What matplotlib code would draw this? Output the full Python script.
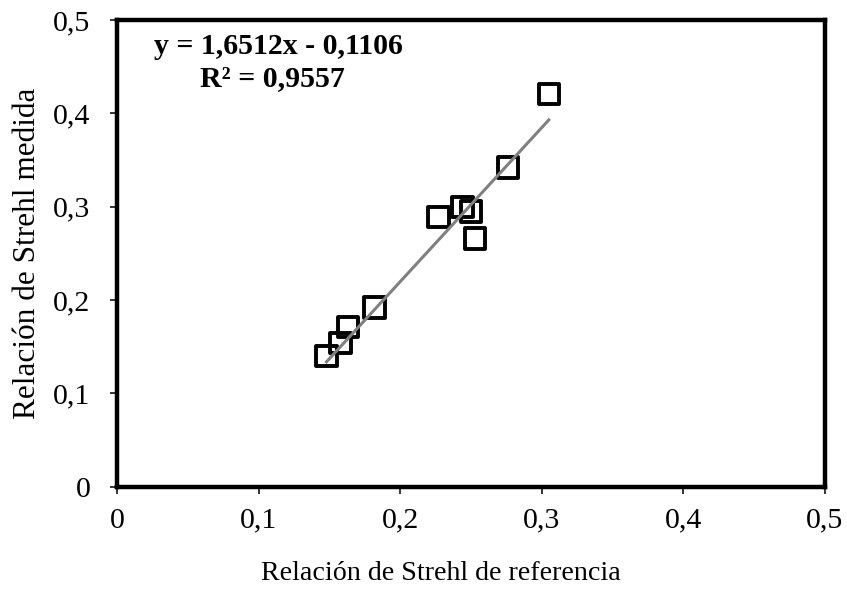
import numpy as np
import matplotlib.pyplot as plt

# Strehl ratios
strehl_ref = [0.148, 0.158, 0.163, 0.182, 0.227, 0.244, 0.250, 0.253, 0.276, 0.305]
strehl_med = [0.140, 0.154, 0.171, 0.192, 0.289, 0.300, 0.295, 0.266, 0.342, 0.421]
slope, intercept = 1.6512, -0.1106
ticks = [0, 0.1, 0.2, 0.3, 0.4, 0.5]
tick_labels = ['0', '0,1', '0,2', '0,3', '0,4', '0,5']

plt.rcParams['font.family'] = ['Liberation Serif', 'DejaVu Serif']

fig = plt.figure(figsize=(8.47, 5.9), dpi=100)
ax = fig.add_axes([0.138, 0.175, 0.836, 0.791])

# trend line over the data range
xl = np.array([min(strehl_ref), max(strehl_ref)])
ax.plot(xl, slope * xl + intercept, color='#808080', lw=2.2, zorder=3)

ax.scatter(strehl_ref, strehl_med, marker='s', s=215, facecolors='none',
           edgecolors='black', linewidths=2.8, zorder=2)

ax.set_xlim(0, 0.5)
ax.set_ylim(0, 0.5)
ax.set_xticks(ticks)
ax.set_xticklabels(tick_labels)
ax.set_yticks(ticks)
ax.set_yticklabels(tick_labels)
ax.tick_params(labelsize=21.5, length=5, width=1.1, direction='out')
ax.tick_params(axis='x', pad=10)
ax.tick_params(axis='y', pad=14)
for s in ax.spines.values():
    s.set_linewidth(3.2)

ax.set_xlabel('Relación de Strehl de referencia', fontsize=20.2, labelpad=20, x=0.458)
ax.set_ylabel('Relación de Strehl medida', fontsize=22.5, labelpad=8)

ax.text(0.114, 0.472, 'y = 1,6512x - 0,1106', fontsize=21.5,
        fontweight='bold', ha='center', va='center')
ax.text(0.110, 0.437, 'R² = 0,9557', fontsize=21.5,
        fontweight='bold', ha='center', va='center')

fig.savefig('out.png', dpi=100)
